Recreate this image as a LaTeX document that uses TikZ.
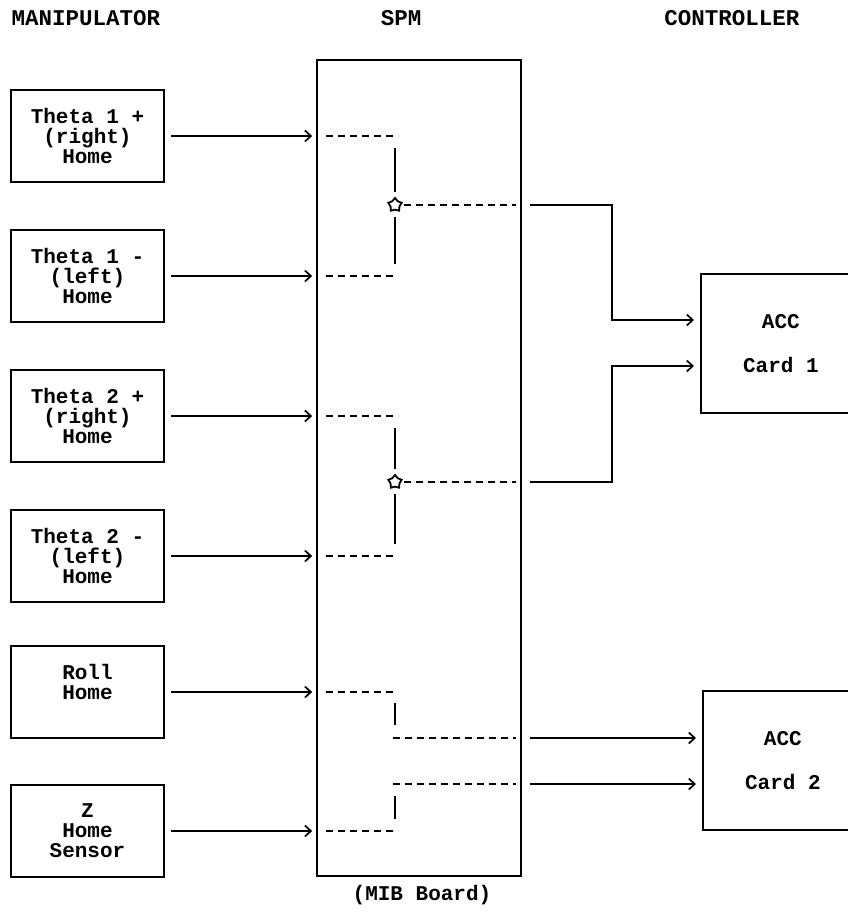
\documentclass[tikz,border=0pt]{standalone}
\usepackage{fontspec}
\setmainfont{Liberation Mono}
\usetikzlibrary{arrows.meta,shapes.geometric,positioning}

\begin{document}
\begin{tikzpicture}[x=1pt,y=-1pt,
  font=\fontsize{21}{20}\selectfont\bfseries,
  heading/.style={font=\fontsize{22.5}{22}\selectfont\bfseries},
  sensor/.style={draw, line width=1.7pt, minimum width=153pt, minimum height=92pt, align=center, inner sep=0pt},
  card/.style={draw, line width=1.7pt, minimum width=160pt, minimum height=139pt, align=center, anchor=west},
  feed/.style={line width=1.7pt, -{Straight Barb[length=6pt,width=11pt,line width=1.7pt]}},
  link/.style={line width=2.3pt, dash pattern=on 7pt off 5pt},
  tie/.style={line width=1.8pt},
  junction/.style={star, star points=5, draw, line width=1.8pt, minimum size=14pt, inner sep=0pt}]
\useasboundingbox (0,0) rectangle (848,913);

% column headings
\node[heading] (hman) at (86,18) {MANIPULATOR};
\node[heading] (hspm) at (401,18) {SPM};
\node[heading] (hctl) at (732,18) {CONTROLLER};

% manipulator sensors
\node[sensor] (t1p) at (87.5,136) {Theta 1 +\\(right)\\Home};
\node[sensor] (t1m) at (87.5,276) {Theta 1 -\\(left)\\Home};
\node[sensor] (t2p) at (87.5,416) {Theta 2 +\\(right)\\Home};
\node[sensor] (t2m) at (87.5,556) {Theta 2 -\\(left)\\Home};
\node[sensor] (roll) at (87.5,692) {Roll\\Home\\~};
\node[sensor] (zs) at (87.5,831) {Z\\Home\\Sensor};

% SPM board
\node[draw, line width=1.7pt, minimum width=204pt, minimum height=816pt] (spm) at (419,468) {};
\node (mib) at (422,895) {(MIB Board)};

% controller cards
\node[card] (acc1) at (700,343.5) {ACC\\[24pt]Card 1};
\node[card] (acc2) at (702,760.5) {ACC\\[24pt]Card 2};

\coordinate (c1a) at (700,320);
\coordinate (c1b) at (700,366);
\coordinate (c2a) at (702,738);
\coordinate (c2b) at (702,784);
\coordinate (bend) at (612,0);

% sensor lines into the board
\foreach \s in {t1p,t1m,t2p,t2m,roll,zs}{
  \draw[feed, shorten <=6pt, shorten >=4pt] (\s.east) -- (\s.east -| spm.west);
  \draw[link] ([xshift=10pt]\s.east -| spm.west) -- ++(72,0);
}

% theta pairs
\node[junction] (j1) at (395,205) {};
\node[junction] (j2) at (395,482) {};
\draw[tie, shorten <=12pt, shorten >=5pt] (t1p.east -| j1) -- (j1);
\draw[tie, shorten <=12pt, shorten >=6pt] (t1m.east -| j1) -- (j1);
\draw[tie, shorten <=12pt, shorten >=5pt] (t2p.east -| j2) -- (j2);
\draw[tie, shorten <=12pt, shorten >=6pt] (t2m.east -| j2) -- (j2);
\draw[link, shorten <=3pt, shorten >=6pt] (j1) -- (j1 -| spm.east);
\draw[link, shorten <=3pt, shorten >=6pt] (j2) -- (j2 -| spm.east);
\draw[feed, shorten >=6pt] ([xshift=8pt]j1 -| spm.east) -- (j1 -| bend) |- (c1a);
\draw[feed, shorten >=6pt] ([xshift=8pt]j2 -| spm.east) -- (j2 -| bend) |- (c1b);

% roll and z
\coordinate (r1) at (395,738);
\coordinate (r2) at (395,784);
\draw[tie, shorten <=11pt, shorten >=13pt] (roll.east -| r1) -- (r1);
\draw[tie, shorten <=12pt, shorten >=12pt] (zs.east -| r2) -- (r2);
\draw[link, shorten >=6pt] ([xshift=-2pt]r1) -- (r1 -| spm.east);
\draw[link, shorten >=6pt] ([xshift=-2pt]r2) -- (r2 -| spm.east);
\draw[feed, shorten >=6pt] ([xshift=8pt]r1 -| spm.east) -- (c2a);
\draw[feed, shorten >=6pt] ([xshift=8pt]r2 -| spm.east) -- (c2b);
\end{tikzpicture}
\end{document}
